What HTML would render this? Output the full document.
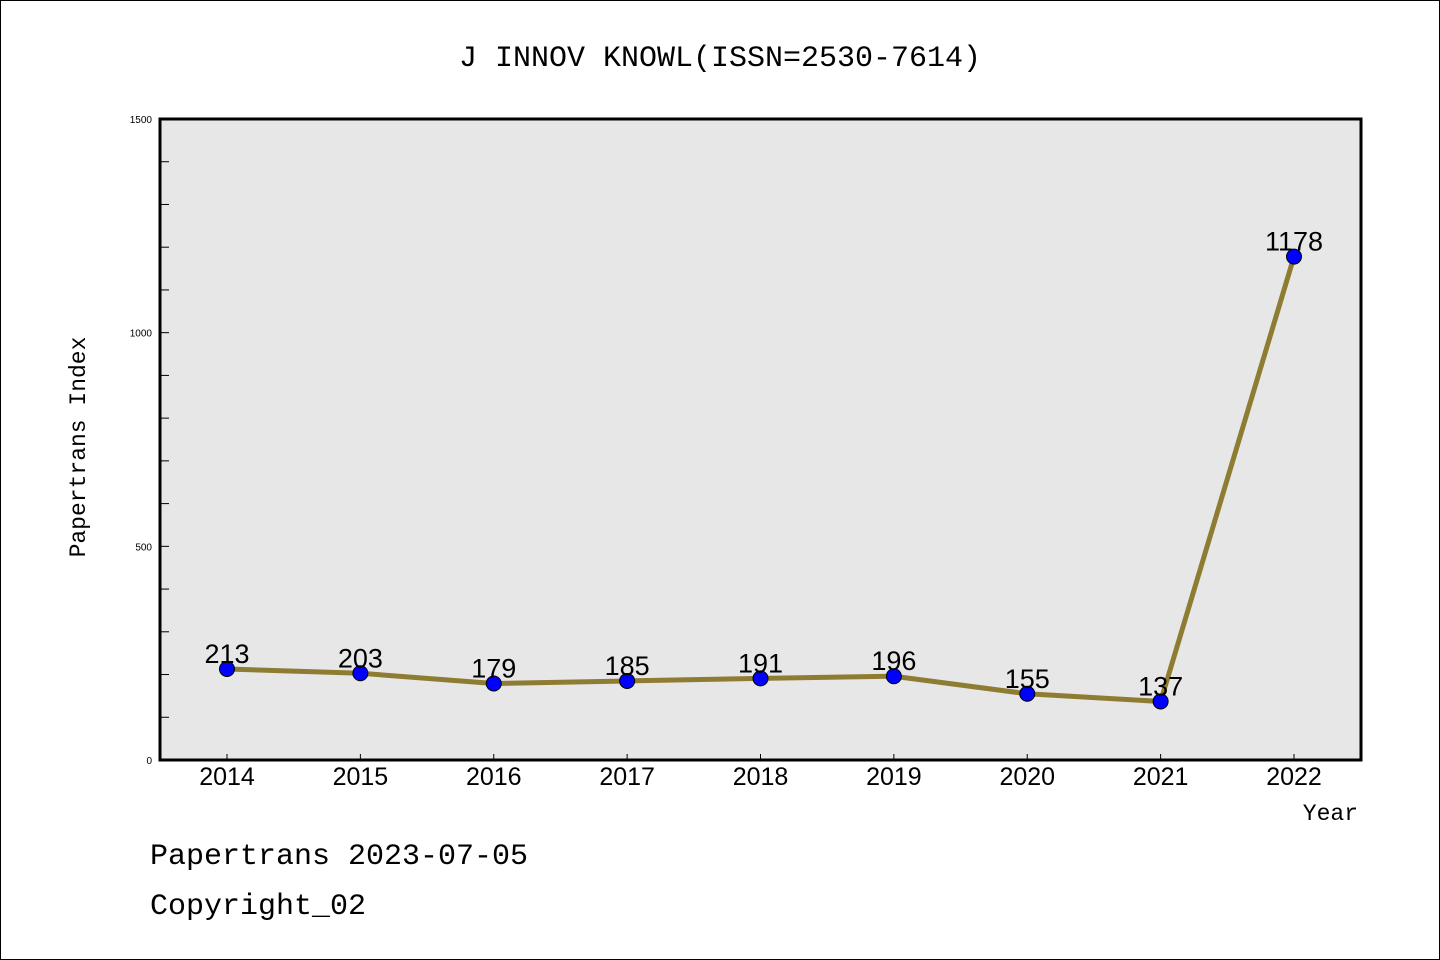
<!DOCTYPE html>
<html><head><meta charset="utf-8"><style>
body{margin:0;background:#fff}
svg{display:block}
.mono{font-family:"Liberation Mono","WenQuanYi Zen Hei",monospace}
.sans{font-family:"Liberation Sans","WenQuanYi Zen Hei",sans-serif}
</style></head><body>
<svg id="c" width="1440" height="960">
<rect x="0.5" y="0.5" width="1439" height="959" fill="#fff" stroke="#000"/>
<text x="720" y="66" text-anchor="middle" class="mono" font-size="30">J INNOV KNOWL(ISSN=2530-7614)</text>
<rect x="160" y="119" width="1201" height="641" fill="#e7e7e7" stroke="#000" stroke-width="3"/>
<text transform="translate(85,447) rotate(-90)" text-anchor="middle" class="mono" font-size="23">Papertrans Index</text>
<text x="1358" y="820" text-anchor="end" class="mono" font-size="23">Year</text>
<text x="150" y="864" class="mono" font-size="30">Papertrans 2023-07-05</text>
<text x="150" y="914" class="mono" font-size="30">Copyright_02</text>
<g id="g"></g>
</svg>
<script>
const years=["2014","2015","2016","2017","2018","2019","2020","2021","2022"];
const values=[213,203,179,185,191,196,155,137,1178];
const yTicks=[0,500,1000,1500];
const NS="http://www.w3.org/2000/svg";
const g=document.getElementById('g');
const x=i=>227+i*(1294-227)/8;
const y=v=>760-v*641/1500;
function mk(t,a,txt){const e=document.createElementNS(NS,t);for(const k in a)e.setAttribute(k,a[k]);if(txt!==undefined)e.textContent=txt;g.appendChild(e);return e;}
for(let v=0;v<=1500;v+=100){
 const t=mk('line',{x1:161,x2:169,y1:y(v),y2:y(v),stroke:'#000','stroke-width':1});
 
 
}
yTicks.forEach(v=>{
 const t=mk('text',{x:152,y:y(v)+4,'text-anchor':'end','font-size':10,class:'sans'},String(v));
 
 
});
years.forEach((yr,i)=>{
 const t=mk('line',{x1:x(i),x2:x(i),y1:754,y2:760,stroke:'#000','stroke-width':1});
 
 
 const l=mk('text',{x:x(i),y:785,'text-anchor':'middle','font-size':25,class:'sans'},yr);
 
 
});
const line=mk('polyline',{points:values.map((v,i)=>x(i)+','+y(v)).join(' '),fill:'none',stroke:'#8e7c32','stroke-width':5,'stroke-linejoin':'round'});


values.forEach((v,i)=>{
 const c=mk('circle',{cx:x(i),cy:y(v),r:7.5,fill:'#0000ff',stroke:'#000','stroke-width':1});
 
 
 const l=mk('text',{x:x(i),y:y(v)-6,'text-anchor':'middle','font-size':27,class:'sans'},String(v));
 
 
});
</script>
</body></html>
